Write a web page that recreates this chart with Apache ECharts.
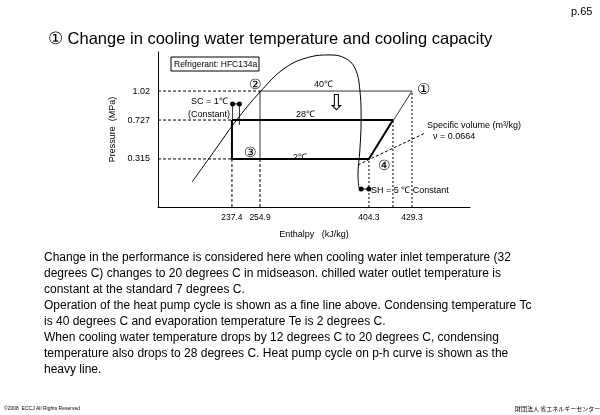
<!DOCTYPE html>
<html><head><meta charset="utf-8">
<script src="https://cdn.jsdelivr.net/npm/echarts@6/dist/echarts.min.js"></script>
<style>body{margin:0;background:#fff}#c{width:600px;height:415px}</style>
</head><body><div id="c"></div>
<script>
// schematic p-h diagram: axis positions (0-100) and their printed values
const hPos = [23.7, 32.7, 67.6, 75.3, 81.4];
const hLabels = ['237.4', '254.9', '404.3', '422.0', '429.3'];
const pPos = [31.0, 56.1, 74.8];
const pLabels = ['0.315', '0.727', '1.02'];

// saturation dome (schematic)
const domeX = [10.9, 18.3, 24.7, 32.7, 40.7, 48.7, 55.1, 59.9, 63.1, 64.7, 65.1, 64.7, 64.1, 64.4];
const domeY = [16.1, 36.8, 54.8, 74.2, 89.7, 96.8, 98.1, 96.1, 89.7, 75.5, 56.1, 36.8, 20.6, 12.3];

// cycles: [hIndex, pIndex]
const thinCycle = [[1, 2], [4, 2], [2, 0], [1, 0], [1, 2]];
const heavyCycle = [[0, 1], [3, 1], [2, 0], [0, 0], [0, 1]];
const specVolX = [64.1, 67.3, 85.6];
const specVolY = [27.1, 30.3, 47.7];

const bodyText = [
  'Change in the performance is considered here when cooling water inlet temperature (32',
  'degrees C) changes to 20 degrees C in midseason. chilled water outlet temperature is',
  'constant at the standard 7 degrees C.',
  'Operation of the heat pump cycle is shown as a fine line above. Condensing temperature Tc',
  'is 40 degrees C and evaporation temperature Te is 2 degrees C.',
  'When cooling water temperature drops by 12 degrees C to 20 degrees C, condensing',
  'temperature also drops to 28 degrees C. Heat pump cycle on p-h curve is shown as the',
  'heavy line.'
];

const cyc = c => c.map(([i, j]) => [hPos[i], pPos[j]]);
const line = (data, opt) => Object.assign({
  type: 'line', data, symbol: 'none', silent: true,
  lineStyle: { color: '#000', width: 1 }
}, opt);
const dash = (a, b, type) => line([a, b], { lineStyle: { color: '#000', width: 1, type: type || [3, 2] } });

const series = [
  line(domeX.map((x, i) => [x, domeY[i]]), { smooth: 0.4 }),
  line(cyc(thinCycle), { lineStyle: { color: '#000', width: 0.8 } }),
  line(cyc(heavyCycle), { lineStyle: { color: '#000', width: 2 } }),
  line(specVolX.map((x, i) => [x, specVolY[i]]), { lineStyle: { color: '#000', width: 1, type: [3, 2] } }),
  dash([0, pPos[2]], [hPos[1], pPos[2]]),
  dash([0, pPos[1]], [hPos[0], pPos[1]]),
  dash([0, pPos[0]], [hPos[0], pPos[0]]),
  dash([hPos[0], 0], [hPos[0], pPos[0]]),
  dash([hPos[1], 0], [hPos[1], pPos[0]]),
  dash([hPos[2], 0], [hPos[2], pPos[0]], [2, 2]),
  dash([hPos[3], 0], [hPos[3], pPos[1]], [2, 2]),
  dash([hPos[4], 0], [hPos[4], pPos[2]], [2, 2]),
  // SC and SH markers
  line([[23.9, 66.5], [26.1, 66.5]], { symbol: 'circle', symbolSize: 5, itemStyle: { color: '#000' } }),
  line([[23.9, 53], [23.9, 65]], { lineStyle: { color: '#000', width: 0.8 } }),
  line([[26.1, 53], [26.1, 65]], { lineStyle: { color: '#000', width: 0.8 } }),
  line([[65.1, 11.6], [67.6, 11.6]], { symbol: 'circle', symbolSize: 5, itemStyle: { color: '#000' } })
];

const t = (x, y, text, style) => ({ type: 'text', x, y, style: Object.assign({ text, fill: '#000', font: '10px "Liberation Sans", Arial' }, style) });
const graphics = [
  t(48, 31, '① Change in cooling water temperature and cooling capacity', { font: '16.5px "Liberation Sans", Arial' }),
  t(571, 6, 'p.65', { font: '11px "Liberation Sans", Arial' }),
  { type: 'rect', shape: { x: 171, y: 57, width: 88, height: 14 }, style: { fill: '#fff', stroke: '#000', lineWidth: 1 } },
  t(174, 60, 'Refrigerant: HFC134a', { font: '8.5px "Liberation Sans", Arial' }),
  t(249, 78, '②', { font: '14px "Liberation Sans", Arial' }),
  t(417, 82, '①', { font: '15px "Liberation Sans", Arial' }),
  t(244, 146, '③', { font: '14px "Liberation Sans", Arial' }),
  t(378, 159, '④', { font: '14px "Liberation Sans", Arial' }),
  t(314, 80, '40℃', { font: '9px "Liberation Sans", Arial' }),
  t(296, 110, '28℃', { font: '9px "Liberation Sans", Arial' }),
  t(293, 153, '2℃', { font: '9px "Liberation Sans", Arial' }),
  t(327, 93, '⇩', { font: '22px "DejaVu Sans"' }),
  t(191, 97, 'SC = 1℃', { font: '9px "Liberation Sans", Arial' }),
  t(188, 110, '(Constant)', { font: '9px "Liberation Sans", Arial' }),
  t(427, 121, 'Specific volume (m³/kg)', { font: '9px "Liberation Sans", Arial' }),
  t(433, 132, 'ν = 0.0664', { font: '9px "Liberation Sans", Arial' }),
  t(371, 186, 'SH = 5 ℃ Constant', { font: '9px "Liberation Sans", Arial' }),
  t(44, 250, bodyText.join('\n'), { font: '12px "Liberation Sans", Arial', lineHeight: 16 }),
  t(4, 406, '©2008  ECCJ All Rights Reserved', { font: '5px "Liberation Sans", Arial' }),
  t(515, 406, '財団法人 省エネルギーセンター', { font: '6px "Noto Sans CJK JP"' })
];

const chart = echarts.init(document.getElementById('c'));
chart.setOption({
  animation: false,
  grid: { left: 158, right: 130, top: 52, bottom: 208 },
  xAxis: {
    type: 'value', min: 0, max: 100,
    name: 'Enthalpy   (kJ/kg)', nameLocation: 'middle', nameGap: 23,
    nameTextStyle: { color: '#000', fontSize: 9, fontFamily: 'Liberation Sans' },
    axisLine: { lineStyle: { color: '#000' } }, axisTick: { show: false }, splitLine: { show: false },
    axisLabel: { customValues: hPos, hideOverlap: false, showMaxLabel: true, color: '#000', fontSize: 8.5,
      fontFamily: 'Liberation Sans', margin: 6,
      formatter: v => hLabels[hPos.indexOf(v)] || '' }
  },
  yAxis: {
    type: 'value', min: 0, max: 100,
    name: 'Pressure  (MPa)', nameLocation: 'middle', nameGap: 36,
    nameTextStyle: { color: '#000', fontSize: 9, fontFamily: 'Liberation Sans' },
    axisLine: { show: true, lineStyle: { color: '#000' } }, axisTick: { show: false }, splitLine: { show: false },
    axisLabel: { customValues: pPos, hideOverlap: false, color: '#000', fontSize: 9, fontFamily: 'Liberation Sans', margin: 8,
      formatter: v => pLabels[pPos.indexOf(v)] || '' }
  },
  series,
  graphic: graphics
});
</script></body></html>
